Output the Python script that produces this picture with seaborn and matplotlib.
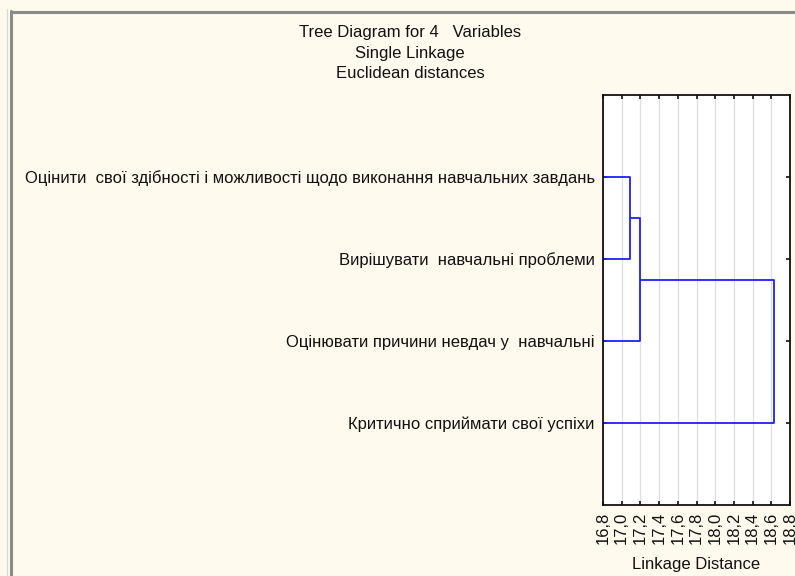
import matplotlib
matplotlib.use("Agg")
import matplotlib.pyplot as plt
import matplotlib.lines as mlines
import matplotlib.ticker as mticker
import seaborn as sns
import pandas as pd

# ---- data ----
variables = [
    "Оцінити  свої здібності і можливості щодо виконання навчальних завдань",
    "Вирішувати  навчальні проблеми",
    "Оцінювати причини невдач у  навчальні",
    "Критично сприймати свої успіхи",
]
# merges: (left node, right node, linkage distance); nodes 0..3 are leaves, 4.. are clusters
merge_left = [0, 4, 5]
merge_right = [1, 2, 3]
merge_dist = [17.09, 17.20, 18.63]
x_ticks = [16.8, 17.0, 17.2, 17.4, 17.6, 17.8, 18.0, 18.2, 18.4, 18.6, 18.8]
title_lines = ["Tree Diagram for 4   Variables", "Single Linkage", "Euclidean distances"]
x_label = "Linkage Distance"

BG = "#fff9ee"
BLUE = "#1f1fff"

sns.set_theme(style="white")
plt.rcParams["font.family"] = ["Liberation Sans", "DejaVu Sans"]

fig = plt.figure(figsize=(7.95, 5.76), dpi=100, facecolor=BG)
ax = fig.add_axes([603 / 795, 1 - 505 / 576, (790 - 603) / 795, (505 - 95) / 576])
ax.set_facecolor("white")

xmin, xmax = x_ticks[0], x_ticks[-1]

# build dendrogram segments from the merge table
pos = {i: (i + 1, xmin) for i in range(len(variables))}  # node -> (y, height)
rows = []
seg = 0
for k, (a, b, d) in enumerate(zip(merge_left, merge_right, merge_dist)):
    ya, ha = pos[a]
    yb, hb = pos[b]
    for (xx, yy) in [(ha, ya), (d, ya), (d, yb), (hb, yb)]:
        rows.append({"seg": seg, "x": xx, "y": yy})
    seg += 1
    pos[len(variables) + k] = ((ya + yb) / 2, d)
df = pd.DataFrame(rows)

sns.lineplot(data=df, x="x", y="y", units="seg", estimator=None, sort=False,
             color=BLUE, lw=1.3, ax=ax, legend=False)

ax.set_xlim(xmin, xmax)
ax.set_ylim(len(variables) + 1, 0)
ax.set_xticks(x_ticks)
ax.xaxis.set_major_formatter(mticker.FuncFormatter(lambda v, p: f"{v:.1f}".replace(".", ",")))
ax.set_yticks(range(1, len(variables) + 1))
ax.set_yticklabels(variables)
ax.grid(axis="x", color="#dedede", lw=0.9)
ax.grid(axis="y", visible=False)
ax.set_axisbelow(True)

for s in ax.spines.values():
    s.set_visible(True)
    s.set_color("#111111")
    s.set_linewidth(1.3)

ax.tick_params(axis="x", direction="in", length=3, width=1.2, color="#111111",
               top=True, bottom=True, labelrotation=90, labelsize=12, pad=5,
               labelcolor="#111111")
ax.tick_params(axis="y", direction="in", length=3, width=1.2, color="#111111",
               left=True, right=True, labelsize=12, pad=6, labelcolor="#111111")
for t in ax.get_xticklabels():
    t.set_verticalalignment("top")

ax.set_xlabel(x_label, fontsize=12, color="#111111", labelpad=9)
ax.set_ylabel("")

for i, line in enumerate(title_lines):
    fig.text(410 / 795, 1 - (33 + 20.5 * i) / 576, line, ha="center", va="center",
             fontsize=12, color="#111111")

# window frame decoration
fig.add_artist(mlines.Line2D([10.5 / 795, 10.5 / 795], [0, 1 - 11 / 576], color="#8a8a8a", lw=2.2,
                             transform=fig.transFigure))
fig.add_artist(mlines.Line2D([10.5 / 795, 1], [1 - 12 / 576, 1 - 12 / 576], color="#8a8a8a", lw=2.2,
                             transform=fig.transFigure))
fig.add_artist(mlines.Line2D([7 / 795, 7 / 795], [0, 1 - 9 / 576], color="#d8d8d8", lw=0.8,
                             transform=fig.transFigure))

fig.savefig("out.png", dpi=100, facecolor=BG)
